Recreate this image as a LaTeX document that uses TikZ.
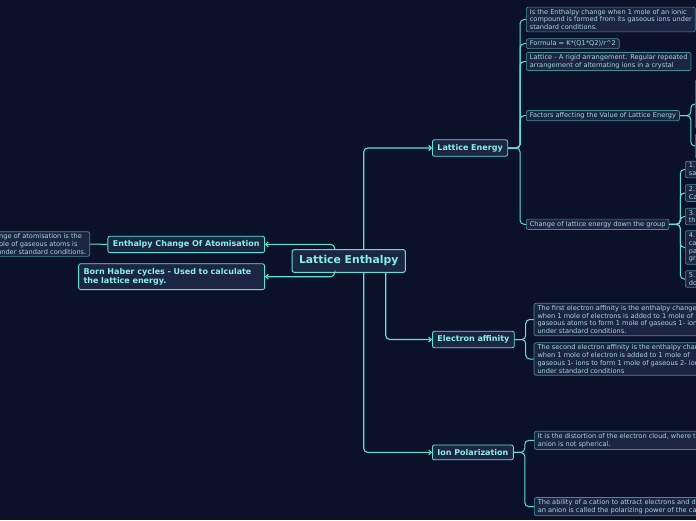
\documentclass[tikz,border=0pt]{standalone}
\usepackage{fontspec}
\setmainfont{DejaVu Sans}
\usetikzlibrary{arrows.meta}

\definecolor{bgnavy}{HTML}{0B1128}
\definecolor{boxfill}{HTML}{1C2642}
\definecolor{mmteal}{HTML}{5BE3D6}
\definecolor{leafedge}{HTML}{3F8E95}
\definecolor{leaftext}{HTML}{A8D6DA}
\definecolor{topictext}{HTML}{84F2E8}

\begin{document}
\begin{tikzpicture}[
x=1pt, y=-1pt,
rootnode/.style={rectangle, rounded corners=2pt, draw=mmteal, fill=boxfill, line width=1pt, text=topictext, font=\fontsize{10.8}{13}\selectfont\bfseries, inner xsep=7pt, inner ysep=6pt},
topic/.style={rectangle, rounded corners=2pt, draw=mmteal, fill=boxfill, line width=0.8pt, text=topictext, font=\fontsize{8}{9.4}\selectfont\bfseries, inner xsep=5pt, inner ysep=4.3pt, align=left},
leaf/.style={rectangle, rounded corners=2pt, draw=leafedge, fill=boxfill, line width=0.7pt, text=leaftext, font=\fontsize{6.6}{7.8}\selectfont, inner xsep=3.5pt, inner ysep=2pt, align=left, anchor=west},
mainline/.style={draw=mmteal, line width=1.1pt, rounded corners=4pt, -{Straight Barb[length=2.5pt,width=5pt]}},
subline/.style={draw=mmteal, line width=1pt, rounded corners=4pt}
]
\useasboundingbox (0,0) rectangle (696,520);
\fill[bgnavy] (0,0) rectangle (696,520);

%Nodes
\node[rootnode]           (root) at (348.7,261)   {Lattice Enthalpy};

\node[topic, anchor=west] (le)   at (432,148)     {Lattice Energy};
\node[topic, anchor=west] (ea)   at (432,339.5)   {Electron affinity};
\node[topic, anchor=west] (ip)   at (432,452.4)   {Ion Polarization};
\node[topic, anchor=east] (eca)  at (265,244.4)   {Enthalpy Change Of Atomisation};
\node[topic, anchor=east, text width=176pt] (bh) at (265,276.7) {Born Haber cycles - Used to calculate\\the lattice energy.};

\node[leaf, anchor=east, text width=104pt] (atomdef) at (90,244) {\hspace*{17pt}\mbox{nge of atomisation is the}\\\hspace*{17pt}\mbox{ole of gaseous atoms is}\\\hspace*{15pt}\mbox{under standard conditions.}};

\node[leaf] (lec1) at (526,19.5)  {Is the Enthalpy change when 1 mole of an ionic\\compound is formed from its gaseous ions under\\standard conditions.};
\node[leaf] (lec2) at (526,43.7)  {Formula = K*(Q1*Q2)/r\^{}2};
\node[leaf] (lec3) at (526,61.5)  {Lattice - A rigid arrangement. Regular repeated\\arrangement of alternating ions in a crystal};
\node[leaf] (lec4) at (526,115.6) {Factors affecting the Value of Lattice Energy};
\node[leaf] (lec5) at (526,224.3) {Change of lattice energy down the group};

\node[leaf, text width=33pt, minimum height=48pt] (fac1) at (695,104) {};
\node[leaf, text width=33pt, minimum height=24pt] (fac2) at (695,146) {};

\node[leaf, text width=33pt] (grp1) at (685,169.5) {1.\\sa};
\node[leaf, text width=33pt] (grp2) at (685,193)   {2.\\Ca};
\node[leaf, text width=33pt] (grp3) at (685,216.5) {3.\\th};
\node[leaf, text width=33pt] (grp4) at (685,247.5) {4.\\ca\\pa\\gr};
\node[leaf, text width=33pt] (grp5) at (685,279)   {5.\\do};

\node[leaf] (eac1) at (533.7,319.5) {The first electron affinity is the enthalpy change\\when 1 mole of electrons is added to 1 mole of\\gaseous atoms to form 1 mole of gaseous 1- ions\\under standard conditions.};
\node[leaf] (eac2) at (533.7,359)   {The second electron affinity is the enthalpy change\\when 1 mole of electron is added to 1 mole of\\gaseous 1- ions to form 1 mole of gaseous 2- ions\\under standard conditions};

\node[leaf] (ipc1) at (534,440.4) {It is the distortion of the electron cloud, where the\\anion is not spherical.};
\node[leaf] (ipc2) at (534,506.6) {The ability of a cation to attract electrons and distort\\an anion is called the polarizing power of the cation.};

%Lines
\draw[mainline] ([xshift=15pt]root.north) |- (le.west);
\draw[mainline] ([xshift=37pt]root.south) |- (ea.west);
\draw[mainline] ([xshift=15pt]root.south) |- (ip.west);
\draw[mainline] ([xshift=-14pt]root.north) |- (eca.east);
\draw[mainline] ([xshift=-14pt]root.south) |- (bh.east);

\draw[subline] (eca.west) -- (atomdef.east);

\foreach \kid in {lec1,lec2,lec3,lec4,lec5}
  \draw[subline] (le.east) -- ++(12,0) |- (\kid.west);
\foreach \kid in {fac1,fac2}
  \draw[subline] (lec4.east) -- ++(11,0) |- (\kid.west);
\foreach \kid in {grp1,grp2,grp3,grp4,grp5}
  \draw[subline] (lec5.east) -- ++(11,0) |- (\kid.west);
\foreach \kid in {eac1,eac2}
  \draw[subline] (ea.east) -- ++(11,0) |- (\kid.west);
\foreach \kid in {ipc1,ipc2}
  \draw[subline] (ip.east) -- ++(11,0) |- (\kid.west);
\end{tikzpicture}
\end{document}
